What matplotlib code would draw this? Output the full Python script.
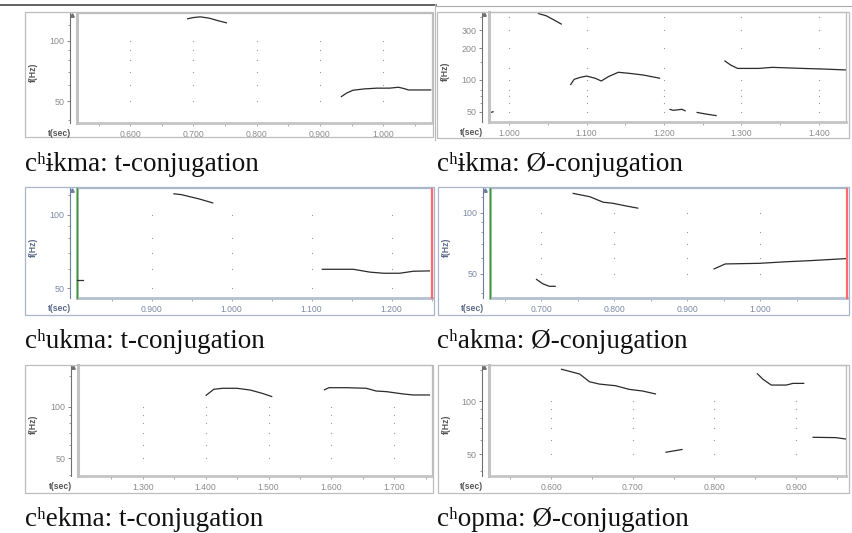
import numpy as np
import matplotlib
matplotlib.use("Agg")
import matplotlib.pyplot as plt
from matplotlib.patches import Rectangle
from matplotlib.lines import Line2D
from matplotlib.ticker import FixedLocator, FixedFormatter, NullFormatter
import matplotlib.transforms as mtransforms

# ---------------- data (time in s, F0 in Hz) ----------------
captions = ["cʰɨkma: t-conjugation", "cʰɨkma: Ø-conjugation",
            "cʰukma: t-conjugation", "cʰakma: Ø-conjugation",
            "cʰekma: t-conjugation", "cʰopma: Ø-conjugation"]

# panel 1: chikma t-conjugation
p1_a_t = [0.690, 0.700, 0.711, 0.725, 0.740, 0.753]
p1_a_f = [129, 131, 132, 130, 126, 123]
p1_b_t = [0.933, 0.942, 0.952, 0.970, 0.990, 1.010, 1.024, 1.032, 1.040, 1.060, 1.076]
p1_b_f = [52.4, 54.8, 56.6, 57.5, 58.0, 58.0, 58.6, 57.8, 56.8, 56.8, 56.8]
p1_xticks = [0.600, 0.700, 0.800, 0.900, 1.000]
p1_yticks = [50, 100]

# panel 2: chikma O-conjugation
p2_a_t = [0.972, 0.980]
p2_a_f = [48.0, 49.9]
p2_b_t = [1.037, 1.048, 1.058, 1.068]
p2_b_f = [433, 410, 374, 340]
p2_c_t = [1.079, 1.084, 1.092, 1.100, 1.111, 1.119, 1.128, 1.141, 1.155, 1.173, 1.195]
p2_c_f = [89.6, 101.5, 106, 109, 104, 97.8, 107.5, 118.5, 115.8, 111.6, 103.8]
p2_d_t = [1.207, 1.212, 1.223, 1.228]
p2_d_f = [52.5, 51.3, 52.5, 50.5]
p2_e_t = [1.242, 1.254, 1.268]
p2_e_f = [49.1, 47.3, 45.6]
p2_f_t = [1.278, 1.286, 1.295, 1.322, 1.340, 1.379, 1.409, 1.436]
p2_f_f = [153, 139, 129, 129, 132, 129, 127, 124.6]
p2_xticks = [1.000, 1.100, 1.200, 1.300, 1.400]
p2_yticks = [50, 100, 200, 300]

# panel 3: chukma t-conjugation
p3_a_t = [0.927, 0.937, 0.960, 0.977]
p3_a_f = [122, 121, 116, 111.7]
p3_b_t = [1.1125, 1.152, 1.173, 1.190, 1.210, 1.227, 1.248]
p3_b_f = [59.8, 59.8, 58.2, 57.6, 57.6, 58.7, 58.9]
p3_marker_f = 54
p3_xticks = [0.900, 1.000, 1.100, 1.200]
p3_yticks = [50, 100]

# panel 4: chakma O-conjugation
p4_a_t = [0.693, 0.702, 0.711, 0.720]
p4_a_f = [47.1, 44.7, 43.4, 43.4]
p4_b_t = [0.743, 0.7665, 0.785, 0.798, 0.816, 0.833]
p4_b_f = [124.5, 119.8, 112.5, 111.2, 107.9, 105.1]
p4_c_t = [0.936, 0.952, 0.999, 1.035, 1.067, 1.118]
p4_c_f = [52.7, 55.9, 56.3, 57.3, 58.0, 59.4]
p4_xticks = [0.700, 0.800, 0.900, 1.000]
p4_yticks = [50, 100]

# panel 5: chekma t-conjugation
p5_a_t = [1.400, 1.413, 1.427, 1.450, 1.471, 1.490, 1.506]
p5_a_f = [115.9, 126.3, 128, 128, 125, 119.6, 114.3]
p5_b_t = [1.588, 1.596, 1.625, 1.6555, 1.671, 1.688, 1.714, 1.730, 1.757]
p5_b_f = [125, 129, 129, 128, 123.4, 122.3, 118.6, 117, 117]
p5_xticks = [1.300, 1.400, 1.500, 1.600, 1.700]
p5_yticks = [50, 100]

# panel 6: chopma O-conjugation
p6_a_t = [0.612, 0.635, 0.647, 0.659, 0.679, 0.6955, 0.712, 0.7285]
p6_a_f = [151.5, 142.1, 128.5, 124.7, 122.0, 116.4, 113.9, 109.5]
p6_b_t = [0.740, 0.761]
p6_b_f = [51.3, 53.3]
p6_c_t = [0.852, 0.8595, 0.8695, 0.888, 0.896, 0.910]
p6_c_f = [143.3, 132.6, 123.1, 123.1, 125.8, 125.8]
p6_d_t = [0.920, 0.9487, 0.963]
p6_d_f = [62.4, 62.1, 60.8]
p6_xticks = [0.600, 0.700, 0.800, 0.900]
p6_yticks = [50, 100]

# ---------------- layout ----------------
W, H = 852, 533
fig = plt.figure(figsize=(W / 100, H / 100), dpi=100)
fig.patch.set_facecolor("white")

TICKFONT = ["Liberation Sans", "DejaVu Sans"]
CAPFONT = ["Liberation Serif", "DejaVu Serif"]


def frac_rect(x0, y0, x1, y1):
    return [x0 / W, 1 - y1 / H, (x1 - x0) / W, (y1 - y0) / H]


def add_frame(x0, y0, x1, y1, color):
    fig.add_artist(Rectangle((x0 / W, 1 - y1 / H), (x1 - x0) / W, (y1 - y0) / H,
                             transform=fig.transFigure, fill=False,
                             edgecolor=color, lw=0.9))


def make_panel(plot_box, frame_box, xlim, ylim, xticks, yticks, segs,
               grid_levels, minor_levels, blue=False, marks=False):
    lab_col = "#7d8aa6" if blue else "#8c8c8c"
    axis_col = "#6f7f9f" if blue else "#707070"
    frame_col = "#a9b5c9" if blue else "#bdbdbd"
    title_col = "#5b6a8a" if blue else "#555555"
    add_frame(*frame_box, frame_col)
    ax = fig.add_axes(frac_rect(*plot_box))
    ax.set_yscale("log")
    ax.set_xlim(*xlim)
    ax.set_ylim(*ylim)
    for t, f in segs:
        ax.plot(t, f, color="#2b2b2b", lw=0.9, solid_capstyle="butt")
    # grid dots
    gx, gy = np.meshgrid(xticks, grid_levels)
    ax.scatter(gx.ravel(), gy.ravel(), s=0.8, color="#9c9c9c", lw=0, zorder=0)
    # spines
    for s in ["top", "right"]:
        ax.spines[s].set_color(frame_col)
        ax.spines[s].set_linewidth(0.9)
    ax.spines["bottom"].set_color("#c4c4c4" if not blue else "#b4bfd2")
    ax.spines["bottom"].set_linewidth(2.0)
    ax.spines["left"].set_position(("outward", 5))
    ax.spines["left"].set_color(axis_col)
    ax.spines["left"].set_linewidth(0.8)
    # inner gray left border of the plot area
    ax.plot([0, 0], [0, 1], transform=ax.transAxes, color="#c2c2c2",
            lw=2.2, clip_on=False, zorder=3)
    # arrow tip at top of y axis
    tr = mtransforms.offset_copy(ax.transAxes, fig=fig, x=-5 * 0.72, y=-2 * 0.72,
                                 units="points")
    ax.plot([0], [1], marker="^", ms=2.5, color=axis_col, transform=tr,
            clip_on=False)
    # ticks
    ax.xaxis.set_major_locator(FixedLocator(xticks))
    ax.xaxis.set_major_formatter(FixedFormatter(["%.3f" % v for v in xticks]))
    minors = sorted(set(np.round(np.concatenate([np.array(xticks) - 0.05,
                                                 np.array(xticks) + 0.05]), 3)))
    ax.xaxis.set_minor_locator(FixedLocator(minors))
    ax.yaxis.set_major_locator(FixedLocator(yticks))
    ax.yaxis.set_major_formatter(FixedFormatter([str(v) for v in yticks]))
    ax.yaxis.set_minor_locator(FixedLocator(minor_levels))
    ax.yaxis.set_minor_formatter(NullFormatter())
    ax.tick_params(axis="x", which="both", direction="out", length=2.2,
                   width=0.6, color="#9a9a9a", pad=2.5, labelsize=6.2,
                   labelcolor=lab_col)
    ax.tick_params(axis="y", which="major", direction="out", length=2.5,
                   width=0.6, color=axis_col, pad=1.5, labelsize=6.4,
                   labelcolor=lab_col)
    ax.tick_params(axis="y", which="minor", direction="out", length=1.5,
                   width=0.5, color=axis_col)
    for lab in ax.get_xticklabels() + ax.get_yticklabels():
        lab.set_family(TICKFONT)
    # axis titles
    px0, py0, px1, py1 = plot_box
    fig.text((px0 - 6) / W, 1 - (py1 + 10.5) / H, "t(sec)", ha="right",
             va="center", fontsize=6.2, fontweight="bold", color=title_col,
             family=TICKFONT)
    fig.text((frame_box[0] + 8) / W, 1 - ((py0 + py1) / 2 + 4) / H, "f(Hz)",
             ha="center", va="center", rotation=90, fontsize=6.2,
             fontweight="bold", color=title_col, family=TICKFONT)
    if marks:
        ax.plot([0, 0], [0, 1], transform=ax.transAxes, color="#2aa02a",
                lw=1.0, clip_on=False, zorder=4)
        ax.plot([1, 1], [0, 1], transform=ax.transAxes, color="#ff6a6a",
                lw=1.6, clip_on=False, zorder=4)
    return ax


common_grid = [50, 60, 70, 80, 90, 100]
common_minor = [40, 60, 70, 80, 90, 120]

make_panel((77, 13, 432, 123), (25, 12, 433, 137), (0.516, 1.077), (38.8, 138),
           p1_xticks, p1_yticks, [(p1_a_t, p1_a_f), (p1_b_t, p1_b_f)],
           common_grid, common_minor)

make_panel((489, 12, 846, 122), (437, 12, 849, 138), (0.974, 1.435), (39.7, 446),
           p2_xticks, p2_yticks,
           [(p2_a_t, p2_a_f), (p2_b_t, p2_b_f), (p2_c_t, p2_c_f),
            (p2_d_t, p2_d_f), (p2_e_t, p2_e_f), (p2_f_t, p2_f_f)],
           [50, 60, 70, 80, 100, 130, 200, 300, 400],
           [60, 70, 80, 150, 400])

ax3 = make_panel((77, 188, 432, 298), (25, 187, 434, 315), (0.8066, 1.2504),
                 (45.6, 128.8), p3_xticks, p3_yticks,
                 [(p3_a_t, p3_a_f), (p3_b_t, p3_b_f)],
                 [50, 60, 70, 80, 100], [60, 70, 80, 90, 120], blue=True,
                 marks=True)
ax3.plot([0.8066, 0.8140], [p3_marker_f, p3_marker_f], color="#333333", lw=0.9,
         clip_on=False, zorder=5)

make_panel((490, 188, 847, 298), (438, 187, 849, 315), (0.630, 1.1186),
           (38.0, 132.2), p4_xticks, p4_yticks,
           [(p4_a_t, p4_a_f), (p4_b_t, p4_b_f), (p4_c_t, p4_c_f)],
           [50, 60, 70, 80, 100], [40, 60, 70, 80, 90, 120], blue=True,
           marks=True)

make_panel((78, 365, 432, 476), (25, 365, 433, 493), (1.197, 1.76), (39.4, 175),
           p5_xticks, p5_yticks, [(p5_a_t, p5_a_f), (p5_b_t, p5_b_f)],
           [50, 60, 70, 80, 90, 100], [40, 60, 70, 80, 90, 150])

make_panel((489, 365, 846, 476), (438, 365, 849, 493), (0.524, 0.961),
           (37.7, 159.8), p6_xticks, p6_yticks,
           [(p6_a_t, p6_a_f), (p6_b_t, p6_b_f), (p6_c_t, p6_c_f),
            (p6_d_t, p6_d_f)],
           [50, 60, 70, 80, 90, 100], [40, 60, 70, 80, 90, 150])

# top rule and separator
fig.add_artist(Line2D([0, 436 / W], [1 - 4.5 / H, 1 - 4.5 / H],
                      transform=fig.transFigure, color="#555555", lw=1.3))
fig.add_artist(Line2D([436 / W, 1], [1 - 6 / H, 1 - 6 / H],
                      transform=fig.transFigure, color="#aaaaaa", lw=0.8))
fig.add_artist(Line2D([435 / W, 435 / W], [1 - 4 / H, 1 - 140 / H],
                      transform=fig.transFigure, color="#bbbbbb", lw=0.8))

# captions
cap_pos = [(25, 171), (437, 171), (25, 348), (437, 348), (25, 526), (437, 526)]
for (cx, cy), txt in zip(cap_pos, captions):
    fig.text(cx / W, 1 - cy / H, txt, fontsize=19.5, family=CAPFONT,
             va="baseline", ha="left", color="#111111")

fig.savefig("out.png", dpi=100)
